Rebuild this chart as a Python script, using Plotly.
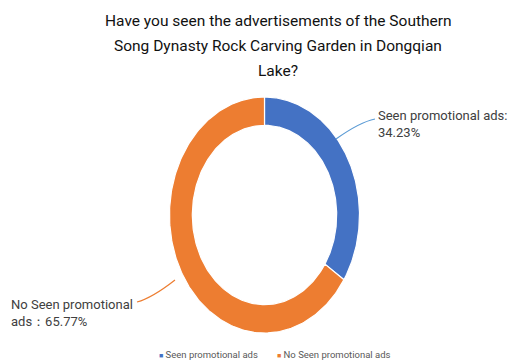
import numpy as np
import plotly.graph_objects as go

# ---- data ----
categories = ["Seen promotional ads", "No Seen promotional ads"]
values = [34.23, 65.77]
colors = ["#4472C4", "#ED7D31"]
title_lines = ["Have you seen the advertisements of the Southern",
               "Song Dynasty Rock Carving Garden in Dongqian",
               "Lake?"]

# ---- geometry (pixel-space axes) ----
W, H = 513, 361
CX, CY = 264.5, 215.0
RX, RY = 95.0, 118.0
HOLE = 0.76

fig = go.Figure()

total = sum(values)
start = 90.0  # degrees, top, going clockwise
for cat, val, col in zip(categories, values, colors):
    sweep = val / total * 360.0
    th = np.radians(np.linspace(start, start - sweep, 200))
    xo = CX + RX * np.cos(th)
    yo = CY - RY * np.sin(th)
    xi = CX + RX * HOLE * np.cos(th[::-1])
    yi = CY - RY * HOLE * np.sin(th[::-1])
    xs = np.concatenate([xo, xi, xo[:1]])
    ys = np.concatenate([yo, yi, yo[:1]])
    fig.add_trace(go.Scatter(x=xs, y=ys, fill="toself", fillcolor=col,
                             mode="lines", line=dict(color="white", width=1.2),
                             showlegend=False, hoverinfo="skip", name=cat))
    start -= sweep

FONT = "Roboto, 'Noto Sans', sans-serif"
label_font = dict(family=FONT, size=13, color="#404040")

# title, one annotation per line for the wider line spacing
for i, line in enumerate(title_lines):
    fig.add_annotation(x=278, y=21 + 25 * i, xref="x", yref="y", showarrow=False,
                       xanchor="center", yanchor="middle", text=line,
                       font=dict(family=FONT, size=15.5, color="#111111"))

fig.add_annotation(x=376, y=124, xref="x", yref="y", showarrow=False,
                   xanchor="left", yanchor="middle", align="left",
                   text=f"{categories[0]}:<br>{values[0]:.2f}%", font=label_font)
fig.add_annotation(x=9, y=313, xref="x", yref="y", showarrow=False,
                   xanchor="left", yanchor="middle", align="left",
                   text=f"No Seen promotional<br>ads：{values[1]:.2f}%", font=label_font)

# leader lines
fig.add_shape(type="path", xref="x", yref="y",
              path="M 336 139 Q 360 122 375 119",
              line=dict(color="#5B9BD5", width=1.2))
fig.add_shape(type="path", xref="x", yref="y",
              path="M 175 280 Q 152 298 137 302",
              line=dict(color="#ED7D31", width=1.2))

# compact legend at the bottom
legend_x = [157, 275]
for cat, col, lx in zip(categories, colors, legend_x):
    fig.add_annotation(x=lx, y=354, xref="x", yref="y", showarrow=False,
                       xanchor="left", yanchor="middle",
                       text=f"<span style='color:{col};font-size:7px'>■</span> {cat}",
                       font=dict(family=FONT, size=9.5, color="#595959"))

fig.update_layout(
    width=W, height=H,
    margin=dict(l=0, r=0, t=0, b=0),
    paper_bgcolor="white", plot_bgcolor="white",
    xaxis=dict(range=[0, W], visible=False, fixedrange=True),
    yaxis=dict(range=[H, 0], visible=False, fixedrange=True),
    showlegend=False,
)

fig.write_html("out.html")
